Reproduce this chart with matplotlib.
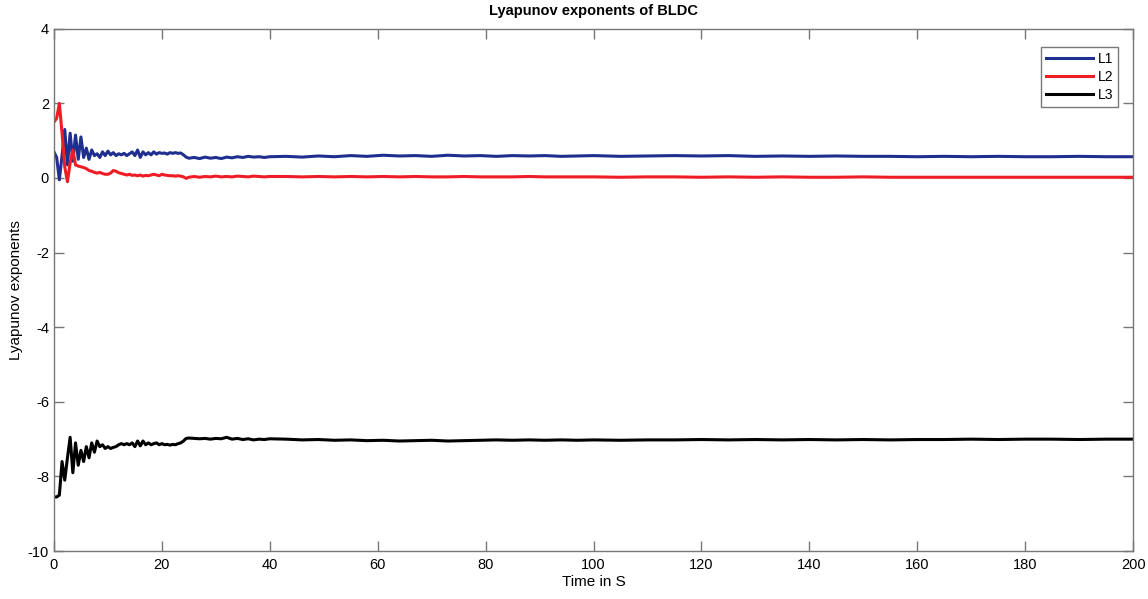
import matplotlib
matplotlib.use("Agg")
import matplotlib.pyplot as plt

plt.rcParams['font.family'] = ['Liberation Sans', 'DejaVu Sans']
plt.rcParams['axes.unicode_minus'] = False

# time samples (s)
t_early = [0, 0.5, 1, 1.5, 2, 2.5, 3, 3.5, 4, 4.5, 5, 5.5, 6, 6.5, 7, 7.5, 8, 8.5, 9, 9.5,
           10, 10.5, 11, 11.5, 12, 12.5, 13, 13.5, 14, 14.5, 15, 15.5, 16, 16.5, 17, 17.5,
           18, 18.5, 19, 19.5, 20, 20.5, 21, 21.5, 22, 22.5, 23, 23.5, 24, 24.5, 25]
t_mid = [26, 27, 28, 29, 30, 31, 32, 33, 34, 35, 36, 37, 38, 39, 40]
t_late = [43, 46, 49, 52, 55, 58, 61, 64, 67, 70, 73, 76, 79, 82, 85, 88, 91, 94, 97, 100,
          105, 110, 115, 120, 125, 130, 135, 140, 145, 150, 155, 160, 165, 170, 175, 180,
          185, 190, 195, 200]
time = t_early + t_mid + t_late

L1 = [0.70, 0.55, -0.05, 0.60, 1.30, 0.35, 1.20, 0.45, 1.15, 0.50, 1.10, 0.55, 0.80, 0.50,
      0.75, 0.60, 0.65, 0.55, 0.70, 0.60, 0.72, 0.62, 0.68, 0.60, 0.65, 0.62, 0.66, 0.60,
      0.65, 0.70, 0.60, 0.75, 0.55, 0.70, 0.62, 0.68, 0.62, 0.70, 0.64, 0.68, 0.66, 0.67,
      0.64, 0.68, 0.66, 0.68, 0.66, 0.67, 0.62, 0.56, 0.53,
      0.55, 0.52, 0.56, 0.53, 0.55, 0.52, 0.56, 0.54, 0.57, 0.55, 0.58, 0.56, 0.57, 0.55, 0.57,
      0.58, 0.56, 0.59, 0.57, 0.60, 0.58, 0.61, 0.59, 0.60, 0.58, 0.61, 0.59, 0.60, 0.58,
      0.60, 0.59, 0.60, 0.58, 0.59, 0.60, 0.58, 0.59, 0.60, 0.59, 0.60, 0.58, 0.59, 0.58,
      0.59, 0.58, 0.58, 0.57, 0.58, 0.57, 0.58, 0.57, 0.57, 0.58, 0.57, 0.57]

L2 = [1.50, 1.60, 2.00, 1.20, 0.30, -0.10, 0.40, 0.75, 0.35, 0.32, 0.30, 0.28, 0.25, 0.20,
      0.18, 0.15, 0.13, 0.15, 0.12, 0.10, 0.10, 0.13, 0.20, 0.18, 0.14, 0.12, 0.10, 0.08,
      0.10, 0.07, 0.08, 0.06, 0.08, 0.05, 0.07, 0.06, 0.08, 0.10, 0.08, 0.06, 0.10, 0.08,
      0.07, 0.06, 0.06, 0.05, 0.06, 0.05, 0.03, -0.01, 0.02,
      0.04, 0.02, 0.04, 0.03, 0.05, 0.03, 0.04, 0.03, 0.05, 0.04, 0.03, 0.05, 0.04, 0.03, 0.04,
      0.04, 0.03, 0.04, 0.03, 0.04, 0.03, 0.04, 0.03, 0.04, 0.03, 0.03, 0.04, 0.03, 0.03,
      0.03, 0.04, 0.03, 0.03, 0.03, 0.03, 0.02, 0.03, 0.03, 0.02, 0.03, 0.02, 0.03, 0.02,
      0.02, 0.03, 0.02, 0.02, 0.02, 0.02, 0.02, 0.02, 0.02, 0.02, 0.02, 0.02]

L3 = [-8.55, -8.55, -8.50, -7.60, -8.10, -7.50, -6.95, -7.90, -7.10, -7.70, -7.30, -7.60,
      -7.20, -7.50, -7.10, -7.35, -7.05, -7.20, -7.15, -7.25, -7.20, -7.25, -7.22, -7.20,
      -7.15, -7.12, -7.15, -7.12, -7.15, -7.10, -7.20, -7.05, -7.18, -7.05, -7.15, -7.10,
      -7.15, -7.12, -7.10, -7.15, -7.12, -7.15, -7.14, -7.16, -7.14, -7.15, -7.12, -7.10,
      -7.05, -6.98, -6.97,
      -6.98, -6.99, -6.98, -7.00, -6.98, -6.99, -6.95, -7.00, -6.98, -7.01, -6.99, -7.02,
      -7.00, -7.01, -6.99,
      -7.00, -7.02, -7.01, -7.03, -7.02, -7.04, -7.03, -7.05, -7.04, -7.03, -7.05, -7.04,
      -7.03, -7.02, -7.03, -7.02, -7.03, -7.02, -7.03, -7.02, -7.03, -7.02, -7.02, -7.01,
      -7.02, -7.01, -7.02, -7.01, -7.02, -7.01, -7.02, -7.01, -7.01, -7.00, -7.01, -7.00,
      -7.00, -7.01, -7.00, -7.00]

xticks = [0, 20, 40, 60, 80, 100, 120, 140, 160, 180, 200]
yticks = [-10, -8, -6, -4, -2, 0, 2, 4]

fig = plt.figure(figsize=(11.48, 5.99), dpi=100)
ax = fig.add_axes([0.047, 0.080, 0.940, 0.872])

ax.plot(time, L1, color='#1f2f8f', lw=2.2, label='L1')
ax.plot(time, L2, color='#ee1c24', lw=2.2, label='L2')
ax.plot(time, L3, color='#000000', lw=2.2, label='L3')

ax.set_xlim(0, 200)
ax.set_ylim(-10, 4)
ax.set_xticks(xticks)
ax.set_yticks(yticks)
ax.tick_params(direction='in', top=True, right=True, length=7, width=1,
               color='#777777', labelsize=10.5, labelcolor='black')
ax.tick_params(axis='x', pad=5)
for s in ax.spines.values():
    s.set_color('#777777')
    s.set_linewidth(1)

ax.set_title('Lyapunov exponents of BLDC', fontsize=10.5, fontweight='bold', pad=10)
ax.set_xlabel('Time in S', fontsize=11, labelpad=2)
ax.set_ylabel('Lyapunov exponents', fontsize=11)
ax.yaxis.set_label_coords(-0.029, 0.5)

leg = ax.legend(loc='upper right', bbox_to_anchor=(0.9925, 0.979), fontsize=10,
                handlelength=3.4, fancybox=False, framealpha=1, borderpad=0.35,
                labelspacing=0.3, handletextpad=0.3)
leg.get_frame().set_edgecolor('#777777')
leg.get_frame().set_linewidth(1)

fig.savefig('out.png', dpi=100)
